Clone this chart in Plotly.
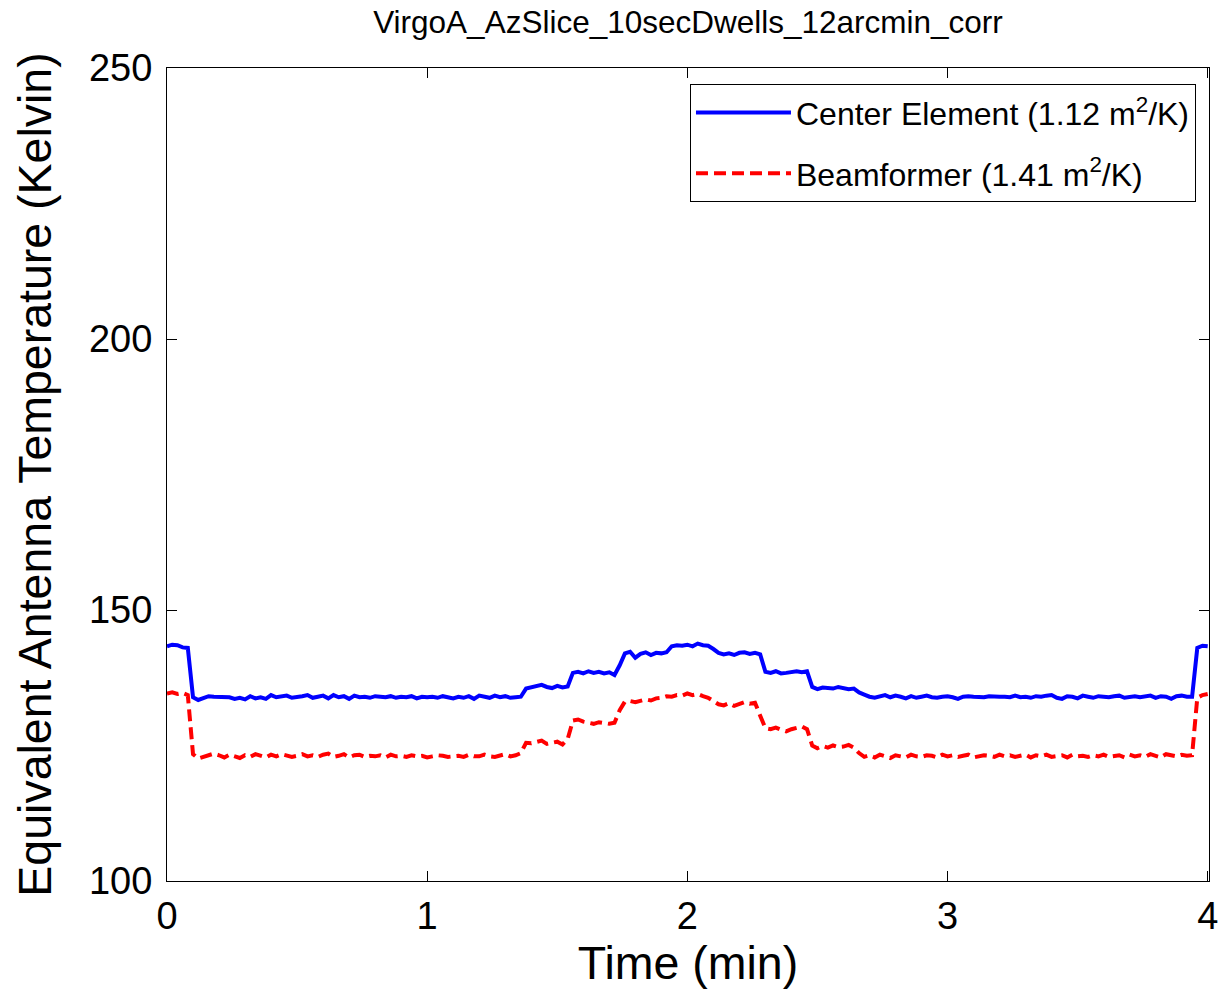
import plotly.graph_objects as go

# Sampling grid (min)
time_min = [round(i * 0.02, 2) for i in range(201)]

center_element = [
    143.3, 143.6, 143.5, 143.1, 143.0, 133.9, 133.4, 133.8, 134.1, 134.0,
    134.0, 134.0, 133.9, 133.6, 133.8, 133.5, 134.1, 133.7, 133.9, 133.6,
    134.3, 133.9, 134.0, 134.2, 133.8, 133.9, 134.1, 134.3, 133.8, 134.0,
    134.2, 133.7, 134.3, 133.9, 134.1, 133.6, 134.2, 133.9, 134.0, 133.8,
    134.1, 134.0, 133.9, 134.1, 133.8, 134.0, 133.9, 134.1, 133.7, 134.0,
    133.9, 134.0, 133.8, 134.1, 133.9, 133.7, 134.0, 133.8, 134.1, 133.6,
    134.2, 134.0, 133.8, 134.2, 133.9, 134.1, 133.8, 133.9, 134.0, 135.5,
    135.7, 135.9, 136.2, 135.8, 135.6, 136.0, 135.7, 135.9, 138.4, 138.6,
    138.3, 138.7, 138.4, 138.6, 138.3, 138.5, 138.0, 139.8, 142.0, 142.3,
    141.2, 141.9, 142.2, 141.7, 142.1, 142.0, 142.2, 143.3, 143.5, 143.4,
    143.6, 143.3, 143.8, 143.5, 143.4, 142.8, 142.1, 141.8, 142.0, 141.7,
    142.1, 142.2, 141.9, 142.1, 141.8, 138.6, 138.4, 138.7, 138.3, 138.4,
    138.6, 138.7, 138.5, 138.7, 135.8, 135.4, 135.7, 135.6, 135.5, 135.8,
    135.6, 135.4, 135.5, 134.8, 134.4, 134.0, 133.8, 134.1, 134.3, 133.9,
    134.2, 134.0, 133.7, 134.1, 133.8, 134.0, 134.2, 133.9, 133.8, 134.0,
    134.1, 133.9, 133.6, 134.0, 134.1, 134.0, 134.0, 133.9, 134.1, 134.0,
    134.0, 134.0, 133.9, 134.2, 133.9, 134.0, 133.8, 134.1, 134.0, 134.2,
    134.3, 133.8, 133.6, 134.1, 134.0, 133.7, 134.2, 134.0, 133.8, 134.1,
    134.0, 133.9, 134.1, 134.2, 133.8, 134.0, 134.1, 133.9, 134.0, 134.2,
    133.8, 134.1, 134.0, 133.6, 134.1, 134.2, 134.0, 134.0, 143.0, 143.4,
    143.3,
]

beamformer = [
    134.6, 134.8, 134.5, 134.7, 134.3, 123.4, 122.6, 122.9, 123.3, 123.5,
    123.2, 122.8, 123.3, 123.0, 122.7, 123.2, 122.9, 123.4, 123.1, 122.8,
    123.3, 123.0, 123.4, 123.2, 122.9, 123.1, 123.4, 123.0, 123.2, 122.9,
    123.3, 123.5, 122.9, 123.1, 123.4, 122.8, 123.2, 123.3, 122.9, 123.1,
    123.0, 123.2, 122.8, 123.3, 123.0, 123.1, 122.9, 123.2, 123.0, 123.1,
    122.8, 123.0, 123.2, 123.1, 122.9, 123.0, 123.1, 122.9, 123.3, 123.0,
    123.0, 123.3, 123.0, 122.9, 123.1, 123.4, 123.0, 123.2, 123.6, 125.5,
    125.4, 125.6, 125.9, 125.3, 125.5, 125.7, 125.2, 126.2, 129.6, 129.8,
    129.4, 129.2, 129.0, 129.3, 129.1, 129.0, 129.2, 131.5, 133.1, 133.2,
    133.0, 133.2, 133.5, 133.3, 133.7, 133.8, 134.1, 134.0, 134.3, 134.2,
    134.6, 134.3, 134.5, 134.1, 133.8, 133.2, 132.6, 132.4, 132.8, 132.3,
    132.6, 133.0, 132.7, 132.9, 130.5, 128.2, 128.0, 128.3, 127.9, 127.6,
    128.0, 128.3, 128.5, 128.0, 125.0, 124.5, 124.9, 124.6, 125.0, 124.7,
    124.8, 125.1, 124.6, 123.6, 122.9, 123.2, 122.8, 123.3, 123.0, 122.7,
    123.2, 123.0, 122.8, 123.3, 123.0, 122.9, 123.2, 123.1, 122.8, 123.3,
    123.0, 123.2, 122.9, 123.1, 123.3, 122.8, 123.0, 123.2, 123.1, 122.9,
    123.3, 123.0, 123.2, 122.9, 123.1, 123.3, 122.8, 123.2, 123.0, 123.3,
    122.9, 123.1, 123.2, 122.8, 123.3, 123.0, 123.1, 122.9, 123.2, 123.0,
    123.3, 122.9, 123.1, 123.2, 122.8, 123.3, 123.0, 123.2, 122.9, 123.4,
    123.1, 122.8, 123.4, 123.2, 123.0, 123.3, 123.1, 123.2, 133.8, 134.3,
    134.5,
]

x_ticks = [0, 1, 2, 3, 4]
y_ticks = [100, 150, 200, 250]

FONT = "Liberation Sans, Arial, sans-serif"

fig = go.Figure()
fig.add_trace(go.Scatter(
    x=time_min, y=center_element, mode="lines",
    name="Center Element (1.12 m<sup>2</sup>/K)", legendgroup="ce",
    line=dict(color="#0000ff", width=4),
))
fig.add_trace(go.Scatter(
    x=time_min, y=beamformer, mode="lines",
    name="Beamformer (1.41 m<sup>2</sup>/K)", legendgroup="bf",
    line=dict(color="#ff0000", width=4, dash="12px,6px"),
))

fig.update_layout(
    width=1219, height=992,
    margin=dict(l=167, r=10, t=68, b=111),
    paper_bgcolor="white", plot_bgcolor="white",
    font=dict(family=FONT, color="black"),
    title=dict(text="VirgoA_AzSlice_10secDwells_12arcmin_corr",
               x=(167 + 1209) / 2 / 1219, xanchor="center",
               y=1 - 22 / 992, yanchor="middle",
               font=dict(size=31.5, family=FONT, color="black")),
    showlegend=True,
    legend=dict(
        x=0.9875, xanchor="right", y=0.980, yanchor="top",
        bgcolor="white", bordercolor="black", borderwidth=1,
        font=dict(size=32, family=FONT, color="black"),
        itemwidth=95, tracegroupgap=16,
    ),
)

fig.update_xaxes(
    range=[0, 4.005], tickvals=x_ticks, ticktext=[str(v) for v in x_ticks],
    ticks="inside", ticklen=10, tickwidth=1, tickcolor="black",
    showline=True, linecolor="black", linewidth=1, mirror="ticks",
    showgrid=False, zeroline=False, automargin=False,
    tickfont=dict(size=38, family=FONT, color="black"),
    ticklabelstandoff=1,
    title=dict(text="Time (min)", font=dict(size=46.5, family=FONT, color="black"), standoff=4),
)
fig.update_yaxes(
    range=[100, 250], tickvals=y_ticks, ticktext=[str(v) for v in y_ticks],
    ticks="inside", ticklen=10, tickwidth=1, tickcolor="black",
    showline=True, linecolor="black", linewidth=1, mirror="ticks",
    showgrid=False, zeroline=False, automargin=False,
    tickfont=dict(size=38, family=FONT, color="black"),
    ticklabelstandoff=6,
    title=dict(text="Equivalent Antenna Temperature (Kelvin)",
               font=dict(size=46.5, family=FONT, color="black"), standoff=22),
)

fig.write_html("out.html")
